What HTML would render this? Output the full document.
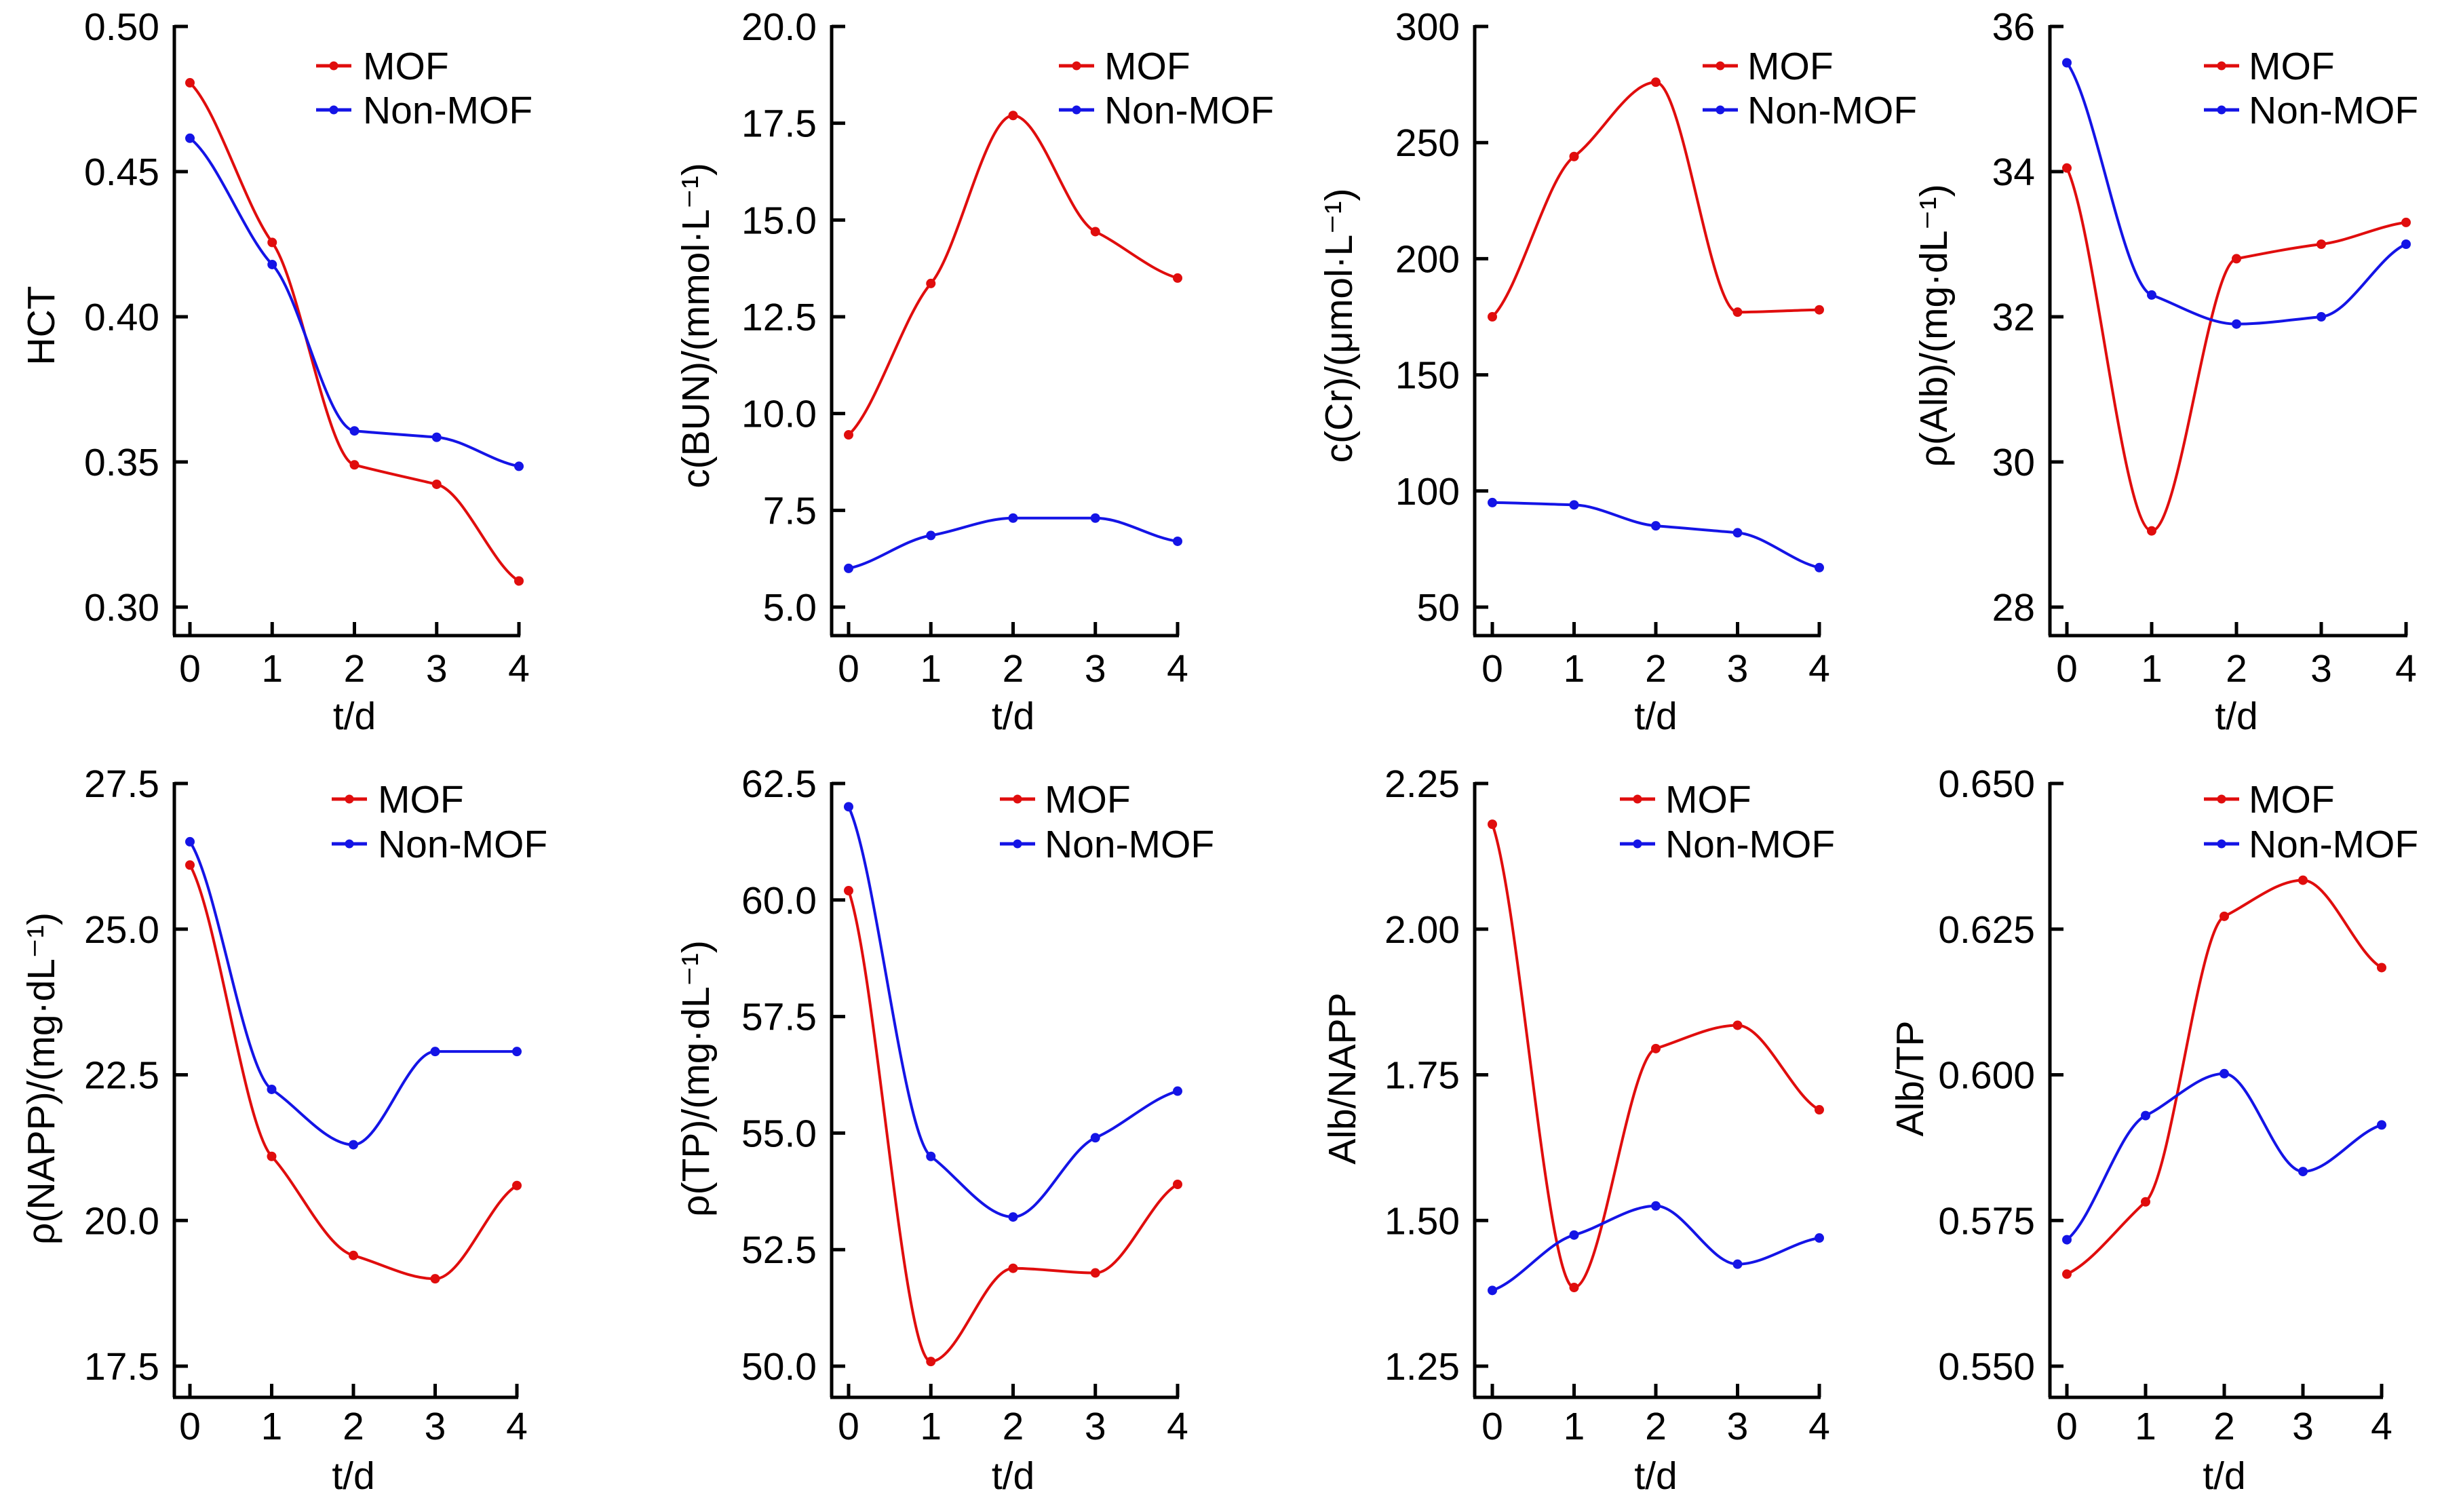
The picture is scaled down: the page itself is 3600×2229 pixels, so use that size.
<!DOCTYPE html>
<html><head><meta charset="utf-8">
<style>
html,body{margin:0;padding:0;background:#fff;}
svg{display:block;}
text{font-family:"Liberation Sans",sans-serif;fill:#000;}
</style></head>
<body>
<svg id="fig" width="3600" height="2229" viewBox="0 0 3600 2229" xmlns="http://www.w3.org/2000/svg"></svg>
<script>
const days = [0, 1, 2, 3, 4];
const seriesNames = ["MOF", "Non-MOF"];
const hctMOF = [0.4806, 0.4256, 0.349, 0.3423, 0.309];
const hctNon = [0.4615, 0.418, 0.3607, 0.3585, 0.3485];
const bunMOF = [9.45, 13.36, 17.7, 14.7, 13.5];
const bunNon = [6.0, 6.85, 7.3, 7.3, 6.7];
const crMOF = [175, 244, 276, 177, 178];
const crNon = [95, 94, 85, 82, 67];
const albMOF = [34.05, 29.05, 32.8, 33.0, 33.3];
const albNon = [35.5, 32.3, 31.9, 32.0, 33.0];
const nappMOF = [26.1, 21.1, 19.4, 19.0, 20.6];
const nappNon = [26.5, 22.25, 21.3, 22.9, 22.9];
const tpMOF = [60.2, 50.1, 52.1, 52.0, 53.9];
const tpNon = [62.0, 54.5, 53.2, 54.9, 55.9];
const anMOF = [2.18, 1.385, 1.795, 1.835, 1.69];
const anNon = [1.38, 1.475, 1.525, 1.425, 1.47];
const atMOF = [0.5658, 0.5782, 0.6272, 0.6334, 0.6184];
const atNon = [0.5717, 0.5930, 0.6002, 0.5834, 0.5914];
const hctTicks = ["0.30","0.35","0.40","0.45","0.50"];
const bunTicks = ["5.0","7.5","10.0","12.5","15.0","17.5","20.0"];
const crTicks = ["50","100","150","200","250","300"];
const albTicks = ["28","30","32","34","36"];
const nappTicks = ["17.5","20.0","22.5","25.0","27.5"];
const tpTicks = ["50.0","52.5","55.0","57.5","60.0","62.5"];
const anTicks = ["1.25","1.50","1.75","2.00","2.25"];
const atTicks = ["0.550","0.575","0.600","0.625","0.650"];

const NS = "http://www.w3.org/2000/svg";
const svg = document.getElementById("fig");
function mk(tag, attrs, parent){
  const e = document.createElementNS(NS, tag);
  for (const k in attrs) e.setAttribute(k, attrs[k]);
  (parent||svg).appendChild(e);
  return e;
}
const RED = "#e00d0d", BLUE = "#1414e6";
const FS = 57;

const panels = [
 {id:"hct", title:"HCT", ticks:hctTicks, m:hctMOF, n:hctNon, ax:257, x0:280, x4:765, row:0, tx:80, lx:466, lt:535},
 {id:"bun", title:"c(BUN)/(mmol·L⁻¹)", ticks:bunTicks, m:bunMOF, n:bunNon, ax:1226, x0:1251, x4:1736, row:0, tx:1045, lx:1561, lt:1628},
 {id:"cr", title:"c(Cr)/(μmol·L⁻¹)", ticks:crTicks, m:crMOF, n:crNon, ax:2174, x0:2200, x4:2682, row:0, tx:1993, lx:2510, lt:2576},
 {id:"alb", title:"ρ(Alb)/(mg·dL⁻¹)", ticks:albTicks, m:albMOF, n:albNon, ax:3022, x0:3047, x4:3547, row:0, tx:2870, lx:3249, lt:3315},
 {id:"napp", title:"ρ(NAPP)/(mg·dL⁻¹)", ticks:nappTicks, m:nappMOF, n:nappNon, ax:257, x0:280, x4:762, row:1, tx:80, lx:489, lt:557},
 {id:"tp", title:"ρ(TP)/(mg·dL⁻¹)", ticks:tpTicks, m:tpMOF, n:tpNon, ax:1226, x0:1251, x4:1736, row:1, tx:1045, lx:1474, lt:1540},
 {id:"an", title:"Alb/NAPP", ticks:anTicks, m:anMOF, n:anNon, ax:2174, x0:2200, x4:2682, row:1, tx:1998, lx:2388, lt:2455},
 {id:"at", title:"Alb/TP", ticks:atTicks, m:atMOF, n:atNon, ax:3022, x0:3047, x4:3511, row:1, tx:2835, lx:3249, lt:3315}
];
const rows = [
 {top:39, bot:895, axis:937, xl:1005, xt:1075, leg1:97, leg2:162, tcy:480},
 {top:1155, bot:2014, axis:2060, xl:2122, xt:2195, leg1:1178, leg2:1244, tcy:1590}
];

// monotone-style cubic (zero slope at extrema, damped tangents)
function smoothPath(pts){
  const n = pts.length;
  const sl = [];
  for (let i=0;i<n-1;i++) sl.push((pts[i+1][1]-pts[i][1])/(pts[i+1][0]-pts[i][0]));
  const m = [];
  for (let i=0;i<n;i++){
    if (i===0) m.push(sl[0]*0.5);
    else if (i===n-1) m.push(sl[n-2]*0.5);
    else if (sl[i-1]*sl[i] <= 0) m.push(0);
    else m.push(0.6 * 2*sl[i-1]*sl[i]/(sl[i-1]+sl[i]));
  }
  let d = "M" + pts[0][0].toFixed(1) + "," + pts[0][1].toFixed(1);
  for (let i=0;i<n-1;i++){
    const h = pts[i+1][0]-pts[i][0];
    const c1x = pts[i][0]+h/3, c1y = pts[i][1]+m[i]*h/3;
    const c2x = pts[i+1][0]-h/3, c2y = pts[i+1][1]-m[i+1]*h/3;
    d += " C"+c1x.toFixed(1)+","+c1y.toFixed(1)+" "+c2x.toFixed(1)+","+c2y.toFixed(1)+" "+pts[i+1][0].toFixed(1)+","+pts[i+1][1].toFixed(1);
  }
  return d;
}

panels.forEach(p => {
  const r = rows[p.row];
  const g = mk("g", {});
  
  
  const tv = p.ticks.map(Number);
  const vmin = tv[0], vmax = tv[tv.length-1];
  const yS = v => r.bot - (v - vmin) / (vmax - vmin) * (r.bot - r.top);
  const xS = d => p.x0 + (d - days[0]) / (days[days.length-1] - days[0]) * (p.x4 - p.x0);

  const yAxis = mk("line", {x1:p.ax, y1:r.top-2, x2:p.ax, y2:r.axis, stroke:"#000", "stroke-width":5}, g);
  
  
  const xAxis = mk("line", {x1:p.ax-2, y1:r.axis, x2:p.x4+2, y2:r.axis, stroke:"#000", "stroke-width":5}, g);
  
  

  p.ticks.forEach(t => {
    const y = yS(Number(t));
    const tk = mk("line", {x1:p.ax, y1:y, x2:p.ax+20, y2:y, stroke:"#000", "stroke-width":5}, g);
    
    
    const tl = mk("text", {x:p.ax-22, y:y+20, "text-anchor":"end", "font-size":FS}, g);
    tl.textContent = t;
    
    
  });
  days.forEach(d => {
    const x = xS(d);
    const tk = mk("line", {x1:x, y1:r.axis, x2:x, y2:r.axis-20, stroke:"#000", "stroke-width":5}, g);
    
    
    const tl = mk("text", {x:x, y:r.xl, "text-anchor":"middle", "font-size":FS}, g);
    tl.textContent = String(d);
    
    
  });
  const xt = mk("text", {x:(p.x0+p.x4)/2, y:r.xt, "text-anchor":"middle", "font-size":FS}, g);
  xt.textContent = "t/d";
  
  
  const yt = mk("text", {x:0, y:0, "text-anchor":"middle", "font-size":FS, transform:"translate("+p.tx+","+r.tcy+") rotate(-90)"}, g);
  yt.textContent = p.title;
  
  

  [[p.m, RED, 0],[p.n, BLUE, 1]].forEach(([vals, col, si]) => {
    const pts = vals.map((v,i) => [xS(days[i]), yS(v)]);
    const path = mk("path", {d:smoothPath(pts), fill:"none", stroke:col, "stroke-width":4}, g);
    
    
    pts.forEach(pt => {
      const c = mk("circle", {cx:pt[0], cy:pt[1], r:7, fill:col}, g);
      
      
    });
    const ly = si===0 ? r.leg1 : r.leg2;
    const ll = mk("line", {x1:p.lx, y1:ly, x2:p.lx+52, y2:ly, stroke:col, "stroke-width":5}, g);
    
    
    const lc = mk("circle", {cx:p.lx+26, cy:ly, r:6.5, fill:col}, g);
    
    
    const lt = mk("text", {x:p.lt, y:ly+20, "font-size":FS}, g);
    lt.textContent = seriesNames[si];
    
    
  });
});
</script>
</body></html>
